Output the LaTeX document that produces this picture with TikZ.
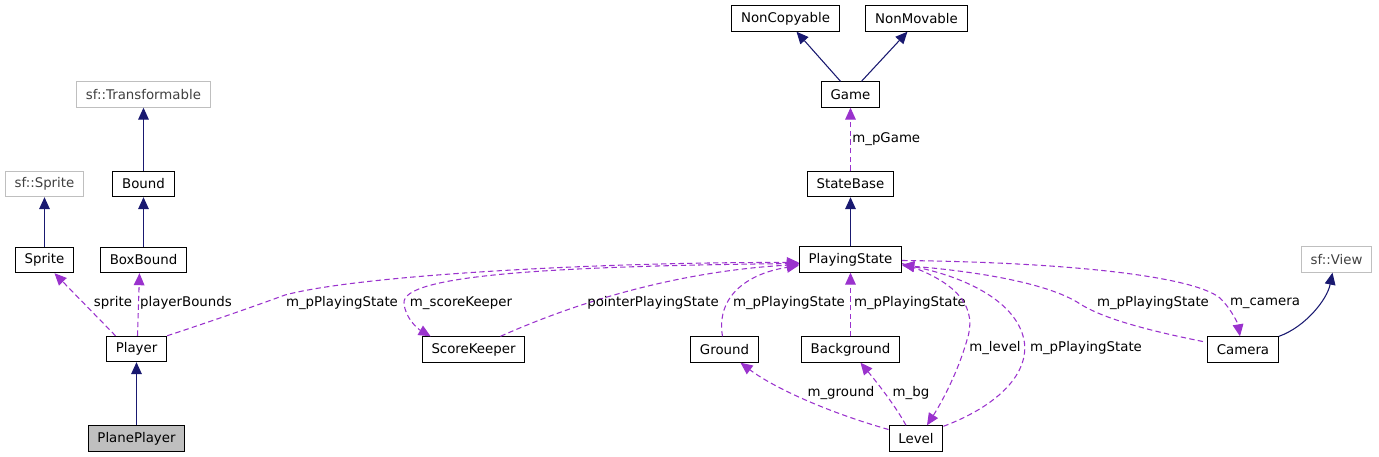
\documentclass[tikz,border=0pt]{standalone}
\usepackage{fontspec}
\setmainfont{DejaVu Sans}
\usetikzlibrary{arrows.meta,calc}
\definecolor{inhcol}{HTML}{191970}
\definecolor{usecol}{HTML}{9A32CD}
\definecolor{extcol}{HTML}{BFBFBF}
\tikzset{
  cls/.style={rectangle,draw=black,line width=0.8pt,minimum height=19pt,inner xsep=7pt,inner ysep=0pt,font=\fontsize{10}{12}\selectfont},
  ext/.style={cls,draw=extcol,text=black!75},
  cur/.style={cls,fill=extcol},
  inh/.style={draw=inhcol,line width=0.8pt,-{Triangle[length=9pt,width=8pt]}},
  use/.style={draw=usecol,line width=0.8pt,dash pattern=on 4pt off 2.5pt,-{Triangle[length=9pt,width=8pt]}},
  lbl/.style={font=\fontsize{10}{12}\selectfont,inner sep=1pt},
}

\begin{document}
\begin{tikzpicture}[x=0.75pt,y=-0.75pt]
  \useasboundingbox (0,0) rectangle (1379,457);

  % classes
  \node[cls] (noncopy) at (785.5,18.5) {NonCopyable};
  \node[cls] (nonmov) at (916.5,18.5) {NonMovable};
  \node[cls] (game) at (850.5,94.5) {Game};
  \node[cls] (sbase) at (850.5,184) {StateBase};
  \node[cls] (psta) at (850.5,259.5) {PlayingState};
  \node[ext] (sftr) at (143.5,94.5) {sf::Transformable};
  \node[cls] (bound) at (143.5,184) {Bound};
  \node[ext] (sfsp) at (44.5,184) {sf::Sprite};
  \node[cls] (sprite) at (44.5,260) {Sprite};
  \node[cls] (boxb) at (143.5,260) {BoxBound};
  \node[cls] (player) at (136.5,349) {Player};
  \node[cur] (plane) at (136.5,438.5) {PlanePlayer};
  \node[cls] (scorek) at (473.5,349.5) {ScoreKeeper};
  \node[cls] (ground) at (724.5,349.5) {Ground};
  \node[cls] (bgnd) at (850.5,349.5) {Background};
  \node[cls] (level) at (916,438.5) {Level};
  \node[cls] (camera) at (1243,349.5) {Camera};
  \node[ext] (sfview) at (1336.5,259.5) {sf::View};

  % inheritance
  \draw[inh] ($(game.north)+(-10,0)$) -- ($(noncopy.south)+(11,0)$);
  \draw[inh] ($(game.north)+(11,0)$) -- ($(nonmov.south)+(-9,0)$);
  \draw[inh] (psta) -- (sbase);
  \draw[inh] (bound) -- (sftr);
  \draw[inh] (boxb) -- (bound);
  \draw[inh] (sprite) -- (sfsp);
  \draw[inh] (plane) -- (player);
  \draw[inh] (camera.north east) .. controls (1305,327) and (1327,300) .. ($(sfview.south)+(-4,0)$);

  % usage
  \draw[use] (sbase) -- node[lbl,right] {m\_pGame} (game);
  \draw[use] ($(player.north)+(-21,0)$) -- ($(sprite.south)+(10,0)$)
    node[lbl] at (113,303) {sprite};
  \draw[use] ($(player.north)+(1,0)$) -- ($(boxb.south)+(-4,0)$)
    node[lbl] at (186,303) {playerBounds};
  \draw[use] (player.north east) .. controls (215,320) and (255,306) .. (285,295)
    .. controls (360,275) and (600,262) .. ($(psta.west)+(0,3)$)
    node[lbl] at (342,303) {m\_pPlayingState};
  \draw[use] ($(psta.west)+(0,4)$) .. controls (540,266) and (402,276) .. (404,303)
    .. controls (405,318) and (418,329) .. ($(scorek.north west)+(9,0)$)
    node[lbl] at (461,303) {m\_scoreKeeper};
  \draw[use] ($(scorek.north)+(27,0)$) .. controls (600,292) and (700,270) .. ($(psta.west)+(0,5)$)
    node[lbl] at (653,303) {pointerPlayingState};
  \draw[use] ($(ground.north)+(-2,0)$) .. controls (716,298) and (745,274) .. ($(psta.west)+(0,6)$)
    node[lbl] at (789,303) {m\_pPlayingState};
  \draw[use] (bgnd) -- (psta) node[lbl] at (910,303) {m\_pPlayingState};
  \draw[use] ($(level.west)+(0,-9)$) .. controls (820,410) and (770,385) .. ($(ground.south)+(16,0)$)
    node[lbl] at (841,393) {m\_ground};
  \draw[use] ($(level.north)+(-10,0)$) .. controls (895,405) and (875,380) .. ($(bgnd.south)+(10,0)$)
    node[lbl] at (911,393) {m\_bg};
  \draw[use] ($(psta.east)+(0,4)$) .. controls (962,283) and (977,310) .. (967,340)
    .. controls (957,375) and (940,405) .. ($(level.north)+(11,0)$)
    node[lbl] at (995,348) {m\_level};
  \draw[use] ($(level.north east)+(0,1)$) .. controls (1000,405) and (1030,372) .. (1024,340)
    .. controls (1016,300) and (962,276) .. ($(psta.east)+(0,5)$)
    node[lbl] at (1086,348) {m\_pPlayingState};
  \draw[use] ($(camera.west)+(-4,-8)$) .. controls (1120,325) and (1092,312) .. (1077,302)
    .. controls (1040,280) and (960,270) .. ($(psta.east)+(0,6)$)
    node[lbl] at (1153,303) {m\_pPlayingState};
  \draw[use] ($(psta.east)+(0,1)$) .. controls (1050,262) and (1190,274) .. (1220,298)
    .. controls (1232,310) and (1238,324) .. ($(camera.north)+(-3,0)$)
    node[lbl] at (1265,303) {m\_camera};
\end{tikzpicture}
\end{document}
